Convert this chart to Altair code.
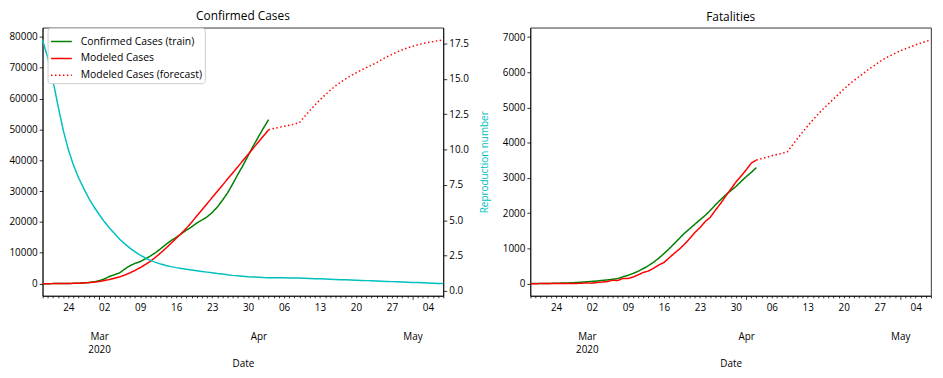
import altair as alt
import pandas as pd

# ---------------- data ----------------
start_date = "2020-02-19"
n_days = 79            # Feb 19 .. May 7, 2020
train_days = 45        # Feb 19 .. Apr 3
dates = pd.date_range(start_date, periods=n_days, freq="D").strftime("%Y-%m-%d").tolist()

confirmed_train = [2, 5, 18, 28, 43, 61, 95, 139, 245, 388, 593,
                   978, 1501, 2336, 2922, 3513, 4747, 5823, 6566, 7161, 8042,
                   9000, 10075, 11364, 12729, 13938, 14991, 16169, 17361, 18407, 19644,
                   20610, 21638, 23049, 24811, 27017, 29406, 32332, 35408, 38309, 41495, 44605,
                   47593, 50468, 53183]
modeled_cases = [0, 5, 15, 30, 50, 75, 110, 160, 230, 330,
                 480, 700, 1000, 1350, 1750, 2200, 2800, 3500, 4300, 5200,
                 6200, 7300, 8600, 10000, 11500, 13100, 14700, 16300, 18000, 19900,
                 21900, 23900, 25900, 27900, 29900, 31900, 33900, 35900, 37900, 39900,
                 41900, 43900, 45900, 47900, 49900]
forecast_cases = [49900, 50300, 50650, 51000, 51350, 51700, 52200, 54200, 56100, 57900,
                  59600, 61200, 62700, 64100, 65300, 66400, 67400, 68300, 69200, 70000,
                  70800, 71600, 72600, 73500, 74300, 75100, 75800, 76400, 76900, 77400,
                  77800, 78150, 78450, 78750, 79000]
repro_number = [17.75, 16.5, 14.9, 13.1, 11.4, 10.0, 8.9, 8.0, 7.25, 6.55,
                5.95, 5.4, 4.9, 4.45, 4.05, 3.65, 3.32, 3.02, 2.75, 2.52,
                2.32, 2.15, 2.01, 1.89, 1.79, 1.71, 1.64, 1.58, 1.52, 1.47,
                1.42, 1.37, 1.32, 1.27, 1.22, 1.18, 1.13, 1.09, 1.06, 1.03,
                1.0, 0.98, 0.96, 0.94, 0.93, 0.925, 0.92, 0.915, 0.91, 0.905,
                0.90, 0.886, 0.872, 0.858, 0.844, 0.83, 0.816, 0.802, 0.788, 0.774,
                0.76, 0.746, 0.732, 0.718, 0.704, 0.69, 0.676, 0.662, 0.648, 0.634,
                0.62, 0.606, 0.592, 0.578, 0.564, 0.55, 0.536, 0.522, 0.51]
fatal_train = [2, 2, 4, 5, 8, 12, 16, 19, 26, 34, 43,
               54, 66, 77, 92, 107, 124, 145, 194, 237, 291,
               354, 429, 514, 611, 724, 853, 988, 1135, 1284, 1433,
               1556, 1685, 1812, 1934, 2077, 2234, 2378, 2517, 2640, 2757, 2898,
               3036, 3160, 3294]
modeled_fatal = [0, 0, 2, 2, 4, 3, 5, 6, 8, 7,
                 12, 20, 14, 35, 45, 60, 95, 90, 150, 145,
                 190, 250, 320, 360, 440, 530, 600, 730, 860, 980,
                 1120, 1280, 1450, 1590, 1760, 1880, 2080, 2270, 2480, 2680,
                 2880, 3050, 3230, 3420, 3510]
forecast_fatal = [3510, 3550, 3590, 3630, 3665, 3700, 3740, 3930, 4120, 4300,
                  4480, 4650, 4810, 4960, 5100, 5240, 5380, 5520, 5650, 5770,
                  5880, 5990, 6100, 6200, 6300, 6390, 6470, 6540, 6610, 6670,
                  6720, 6780, 6830, 6880, 6920]

series_names = ["Confirmed Cases (train)", "Modeled Cases", "Modeled Cases (forecast)"]
series_colors = ["#008000", "#ff0000", "#ff0000"]
series_dash = [[1, 0], [1, 0], [1.5, 2.5]]
cyan = "#00bfbf"

cases_ticks = [0, 10000, 20000, 30000, 40000, 50000, 60000, 70000, 80000]
repro_ticks = [0, 2.5, 5, 7.5, 10, 12.5, 15, 17.5]
fatal_ticks = [0, 1000, 2000, 3000, 4000, 5000, 6000, 7000]

# ---------------- tables ----------------
def long_table(train, model, forecast):
    rows = []
    for i, v in enumerate(train):
        rows.append((dates[i], v, series_names[0]))
    for i, v in enumerate(model):
        rows.append((dates[i], v, series_names[1]))
    for i, v in enumerate(forecast):
        rows.append((dates[train_days - 1 + i], v, series_names[2]))
    return pd.DataFrame(rows, columns=["Date", "value", "series"])

cases_df = long_table(confirmed_train, modeled_cases, forecast_cases)
fatal_df = long_table(fatal_train, modeled_fatal, forecast_fatal)
repro_df = pd.DataFrame({"Date": dates, "R": repro_number})

tick_ms = [int(pd.Timestamp(d, tz="UTC").value // 10**6) for d in dates]
x_scale = alt.Scale(type="utc", domain=[tick_ms[0], tick_ms[-1]])

month_test = "utcdate(datum.value) == 1"
label_expr = ("utcdate(datum.value) == 1 ? (utcmonth(datum.value) == 2 ? ['Mar', '2020'] : "
              "utcFormat(datum.value, '%b')) : "
              "(utcday(datum.value) == 1 ? utcFormat(datum.value, '%d') : '')")

x_axis = alt.Axis(values=tick_ms, labelExpr=label_expr,
                  tickSize={"condition": {"test": month_test, "value": 3.5}, "value": 2},
                  labelPadding={"condition": {"test": month_test, "value": 33}, "value": 5},
                  labelOverlap=False, labelFlush=False, labelBound=False, labelAngle=0,
                  labelLineHeight=13, title="Date", titlePadding=4)

W, H = 405, 271

def series_lines(df, domain, ticks, legend):
    return alt.Chart(df).mark_line(strokeWidth=1.5).encode(
        x=alt.X("Date:T", scale=x_scale, axis=x_axis),
        y=alt.Y("value:Q", scale=alt.Scale(domain=domain, nice=False, zero=False),
                axis=alt.Axis(values=ticks, format="d", title=None)),
        color=alt.Color("series:N", scale=alt.Scale(domain=series_names, range=series_colors),
                        legend=legend),
        strokeDash=alt.StrokeDash("series:N", scale=alt.Scale(domain=series_names, range=series_dash),
                                  legend=legend),
        detail="series:N",
    )

legend_left = alt.Legend(title=None, orient="none", legendX=5, legendY=0, padding=2.5,
                         fillColor="white", strokeColor="#cccccc", cornerRadius=3,
                         symbolType="stroke", symbolSize=441, symbolStrokeWidth=1.5,
                         labelOffset=8, rowPadding=-1, labelFontSize=10.5, labelFont="Open Sans")

cases_layer = series_lines(cases_df, [-3950, 82950], cases_ticks, legend_left)
repro_layer = alt.Chart(repro_df).mark_line(strokeWidth=1.5, color=cyan).encode(
    x=alt.X("Date:T", scale=x_scale, axis=x_axis),
    y=alt.Y("R:Q", scale=alt.Scale(domain=[-0.36, 18.63], nice=False, zero=False),
            axis=alt.Axis(orient="right", values=repro_ticks, format=".1f",
                          title="Reproduction number", titleColor=cyan, titlePadding=11,
                          titleAngle=270, titleBaseline="top")),
)

left = alt.layer(cases_layer, repro_layer).resolve_scale(y="independent").properties(
    width=W, height=H, title="Confirmed Cases")

right = series_lines(fatal_df, [-346, 7266], fatal_ticks, None).properties(
    width=W, height=H, title="Fatalities")

chart = alt.hconcat(left, right, spacing=12).resolve_scale(
    color="independent", strokeDash="independent"
).properties(
    padding={"left": 0, "top": 0, "right": 0, "bottom": 0}
).configure_axis(
    labelFont="Open Sans", labelFontSize=10, labelColor="black",
    titleFont="Open Sans", titleFontSize=10, titleFontWeight="normal", titleColor="black",
    domainColor="black", domainWidth=0.8, tickColor="black", tickWidth=0.8,
    grid=False, tickSize=3.5,
).configure_view(
    stroke="black", strokeWidth=0.8
).configure_title(
    font="Open Sans", fontSize=12, fontWeight="normal", color="black", offset=0, anchor="middle"
)

chart.save("out.html", embed_options={"renderer": "svg", "actions": False})
